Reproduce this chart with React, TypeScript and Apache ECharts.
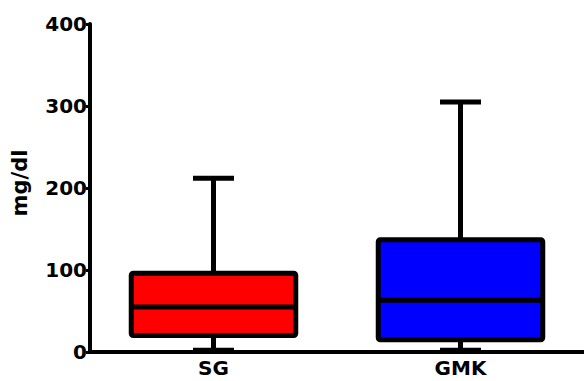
import React, { useEffect, useRef } from "react";
import * as echarts from "echarts";

const categories = ["SG", "GMK"];
const mins = [2, 2];
const q1s = [20, 15];
const medians = [55, 63];
const q3s = [96, 137];
const maxs = [212, 305];
const boxColors = ["#FF0000", "#0000FF"];
const yTicks = { min: 0, max: 400, interval: 100 };

const FONT = "'DejaVu Sans', Arial, sans-serif";

export default function App() {
  const ref = useRef<HTMLDivElement>(null);
  useEffect(() => {
    if (!ref.current) return;
    const chart = echarts.init(ref.current, undefined, { renderer: "svg" });
    const data = categories.map((c, i) => [i, mins[i], q1s[i], medians[i], q3s[i], maxs[i]]);
    chart.setOption({
      animation: false,
      grid: { left: 90, right: -2, top: 24, bottom: 29, containLabel: false },
      xAxis: {
        type: "category",
        data: categories,
        axisLine: { lineStyle: { color: "#000", width: 4 } },
        axisTick: { show: false },
        axisLabel: { color: "#000", fontSize: 20, fontWeight: "bold", fontFamily: FONT, margin: 6 },
        splitLine: { show: false },
      },
      yAxis: {
        type: "value",
        min: yTicks.min,
        max: yTicks.max,
        interval: yTicks.interval,
        name: "mg/dl",
        nameLocation: "middle",
        nameGap: 60,
        nameTextStyle: { color: "#000", fontSize: 21, fontWeight: "bold", fontFamily: FONT, padding: [0, 0, 0, 10] },
        axisLine: { show: true, lineStyle: { color: "#000", width: 4 } },
        axisTick: { show: true, length: 4, lineStyle: { color: "#000", width: 3 } },
        axisLabel: { color: "#000", fontSize: 20, fontWeight: "bold", fontFamily: FONT, margin: 3 },
        splitLine: { show: false },
      },
      series: [
        {
          type: "custom",
          data,
          encode: { x: 0, y: [1, 2, 3, 4, 5] },
          renderItem: (params: any, api: any) => {
            const idx = api.value(0);
            const band = api.size([1, 0])[0];
            const boxHalf = band * 0.333;
            const capHalf = band * 0.083;
            const pMin = api.coord([idx, api.value(1)]);
            const pQ1 = api.coord([idx, api.value(2)]);
            const pMed = api.coord([idx, api.value(3)]);
            const pQ3 = api.coord([idx, api.value(4)]);
            const pMax = api.coord([idx, api.value(5)]);
            const cx = pMed[0];
            const lineStyle = { stroke: "#000", lineWidth: 5, fill: null };
            return {
              type: "group",
              children: [
                { type: "line", shape: { x1: cx, y1: pQ3[1], x2: cx, y2: pMax[1] }, style: lineStyle },
                { type: "line", shape: { x1: cx - capHalf, y1: pMax[1], x2: cx + capHalf, y2: pMax[1] }, style: lineStyle },
                { type: "line", shape: { x1: cx, y1: pQ1[1], x2: cx, y2: pMin[1] }, style: lineStyle },
                { type: "line", shape: { x1: cx - capHalf, y1: pMin[1], x2: cx + capHalf, y2: pMin[1] }, style: lineStyle },
                {
                  type: "rect",
                  shape: { x: cx - boxHalf, y: pQ3[1], width: boxHalf * 2, height: pQ1[1] - pQ3[1], r: 2 },
                  style: { fill: boxColors[idx], stroke: "#000", lineWidth: 5, lineJoin: "round" },
                },
                { type: "line", shape: { x1: cx - boxHalf, y1: pMed[1], x2: cx + boxHalf, y2: pMed[1] }, style: lineStyle },
              ],
            };
          },
        },
      ],
    });
    return () => chart.dispose();
  }, []);
  return <div ref={ref} style={{ width: 584, height: 381, position: "absolute", left: 0, top: 0 }} />;
}
